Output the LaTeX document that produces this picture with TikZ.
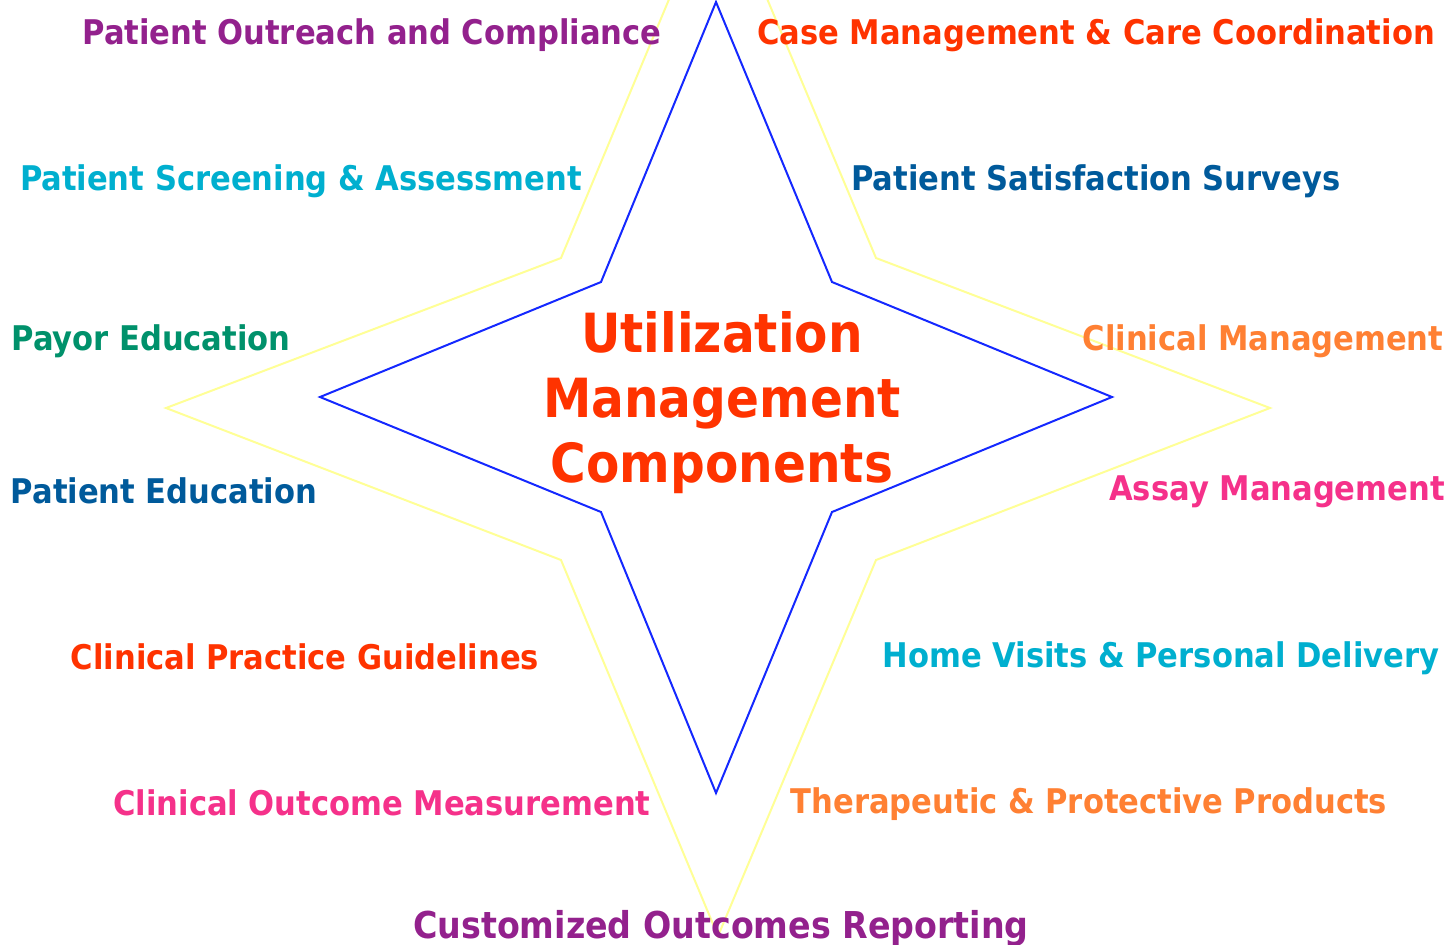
\documentclass[tikz,border=0pt]{standalone}
\usepackage{fontspec}
\setmainfont{DejaVu Sans Condensed}
\usepackage{tikz}

\definecolor{umpurple}{RGB}{147,33,141}
\definecolor{umred}{RGB}{255,51,0}
\definecolor{umcyan}{RGB}{0,175,207}
\definecolor{umnavy}{RGB}{0,90,155}
\definecolor{umgreen}{RGB}{0,145,107}
\definecolor{umorange}{RGB}{255,128,51}
\definecolor{umpink}{RGB}{245,49,138}
\definecolor{umblue}{RGB}{20,40,255}
\definecolor{umyellow}{RGB}{255,255,150}

\begin{document}
\begin{tikzpicture}[x=0.5pt,y=-0.5pt]
\tikzstyle{every node}=[font=\bfseries\fontsize{17}{20}\selectfont,inner sep=0pt]
\tikzstyle{title}=[font=\bfseries\fontsize{27}{32.5}\selectfont,text=umred,align=center]
\useasboundingbox (0,0) rectangle (1450,944);
\clip (0,0) rectangle (1450,944);

% outer star
\draw[umyellow,line width=1pt] (718,-118) -- (876,258) -- (1270,408) -- (876,560)
  -- (718,936) -- (561,560) -- (166,408) -- (561,258) -- cycle;
% inner star
\draw[umblue,line width=1pt] (716,2) -- (832,282) -- (1112,397) -- (832,512)
  -- (716,793) -- (601,512) -- (320,397) -- (601,282) -- cycle;

\node[title] (title) at (722,403) {Utilization\\Management\\Components};

% left side
\node[text=umpurple] (outreach) at (372,35) {Patient Outreach and Compliance};
\node[text=umcyan] (screening) at (301,181) {Patient Screening \& Assessment};
\node[text=umgreen] (payor) at (151,341) {Payor Education};
\node[text=umnavy] (pateduc) at (164,491) {Patient Education};
\node[text=umred] (guidelines) at (305,657) {Clinical Practice Guidelines};
\node[text=umpink] (outcome) at (382,803) {Clinical Outcome Measurement};
% right side
\node[text=umred] (casemgmt) at (1096,35) {Case Management \& Care Coordination};
\node[text=umnavy] (satisfaction) at (1096,181) {Patient Satisfaction Surveys};
\node[text=umorange] (clinmgmt) at (1263,341) {Clinical Management};
\node[text=umpink] (assay) at (1277,492) {Assay Management};
\node[text=umcyan] (homevisits) at (1161,658) {Home Visits \& Personal Delivery};
\node[text=umorange] (therapeutic) at (1089,804) {Therapeutic \& Protective Products};
% bottom
\node[text=umpurple,font=\bfseries\fontsize{18.5}{22}\selectfont] (reporting) at (721,928) {Customized Outcomes Reporting};
\end{tikzpicture}
\end{document}
